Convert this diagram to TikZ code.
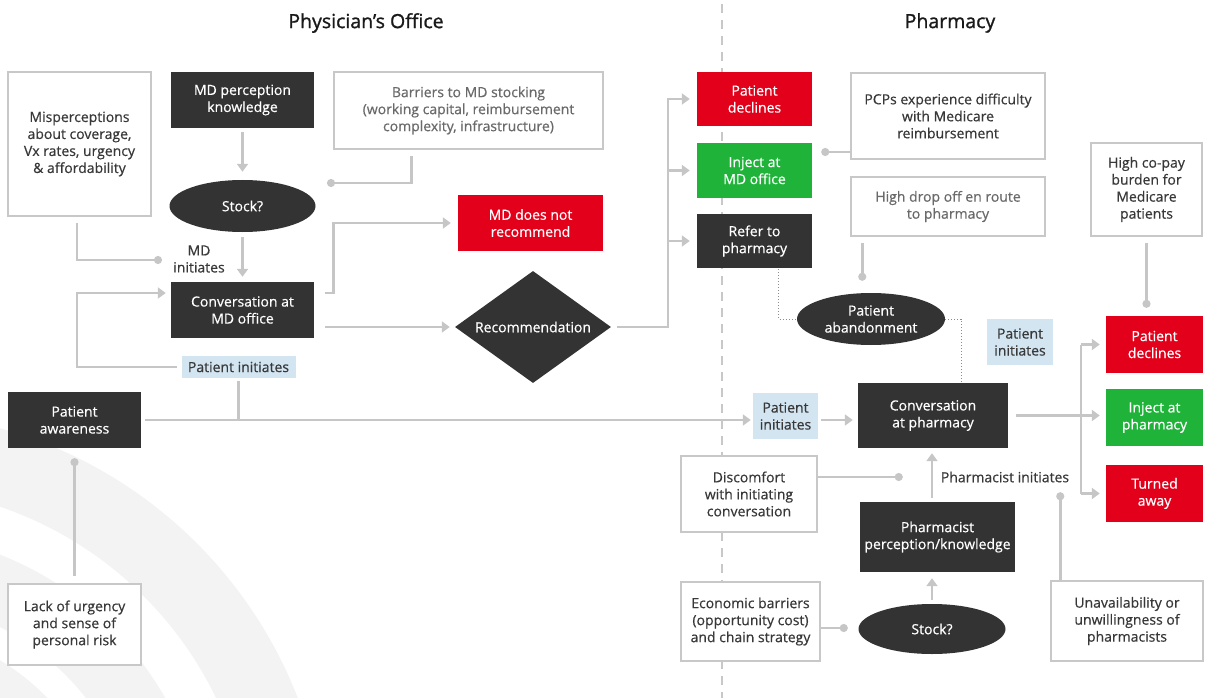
\documentclass[tikz,border=0pt]{standalone}
\usepackage{fontspec}
\setmainfont{Open Sans}[FakeBold=0.5]
\usetikzlibrary{shapes.geometric,arrows.meta,calc}
\definecolor{dkc}{HTML}{333333}
\definecolor{redc}{HTML}{E2001A}
\definecolor{grnc}{HTML}{1FB33A}
\definecolor{lbc}{HTML}{D2E5F1}
\definecolor{linec}{HTML}{C6C6C6}
\definecolor{bordc}{HTML}{C8C8C8}
\definecolor{arcc}{HTML}{F3F3F3}
\definecolor{txtc}{HTML}{383838}
\definecolor{ltxtc}{HTML}{6A6A6A}
\definecolor{divc}{HTML}{C8C8C8}
\begin{document}
\begin{tikzpicture}[x=1pt,y=-1pt,
  every node/.style={inner sep=0pt, align=center, font=\fontsize{14}{17}\selectfont},
  dk/.style={fill=dkc, text=white},
  wb/.style={draw=bordc, line width=1.5pt, fill=white, text=txtc},
  lwb/.style={wb, text=ltxtc},
  rd/.style={fill=redc, text=white},
  gr/.style={fill=grnc, text=white},
  lb/.style={fill=lbc, text=txtc},
  ell/.style={ellipse, fill=dkc, text=white},
  lbl/.style={text=txtc},
  conn/.style={draw=linec, line width=2.6pt},
  arr/.style={conn, -{Triangle[length=8pt,width=11pt]}},
  dotend/.style={conn, -{Circle[length=8pt]}},
  dotline/.style={draw=black!45, line width=1pt, dotted},
  title/.style={text=black!90, font=\fontsize{19.5}{22}\selectfont\addfontfeature{FakeBold=1.2}}
]
\useasboundingbox (0,0) rectangle (1208,698);
% background arcs
\begin{scope}
\clip (0,0) rectangle (1208,698);
\fill[arcc, even odd rule] (-120,860) circle[radius=448pt] (-120,860) circle[radius=373pt];
\fill[arcc, even odd rule] (-120,860) circle[radius=328pt] (-120,860) circle[radius=262pt];
\fill[arcc, even odd rule] (-120,860) circle[radius=233pt] (-120,860) circle[radius=160pt];
\end{scope}
% divider
\draw[divc, line width=1.2pt, dash pattern=on 9pt off 7pt] (722,4) -- (722,698);
% titles
\node[title] (t1) at (366,23) {Physician’s Office};
\node[title] (t2) at (950,23) {Pharmacy};
% physician side
\node[wb, minimum width=143pt, minimum height=144pt] (mis) at (79.5,144) {Misperceptions\\about coverage,\\Vx rates, urgency\\\& affordability};
\node[dk, minimum width=143pt, minimum height=56pt] (mdp) at (242.5,100) {MD perception\\knowledge};
\node[lwb, minimum width=269pt, minimum height=77pt] (bar) at (468.5,110.5) {Barriers to MD stocking\\(working capital, reimbursement\\complexity, infrastructure)};
\node[ell, minimum width=146pt, minimum height=52pt] (stock1) at (242.5,206) {Stock?};
\node[lbl] (mdinit) at (199,259) {MD\\initiates};
\node[dk, minimum width=143pt, minimum height=56pt] (conv1) at (242.5,310) {Conversation at\\MD office};
\node[lb, minimum width=114pt, minimum height=22pt] (pi1) at (238.5,367) {Patient initiates};
\node[dk, minimum width=133pt, minimum height=56pt] (paw) at (74.5,420) {Patient\\awareness};
\node[wb, minimum width=133pt, minimum height=81pt] (lack) at (74.5,624.5) {Lack of urgency\\and sense of\\personal risk};
\node[rd, minimum width=145pt, minimum height=56pt] (nrec) at (530.5,223) {MD does not\\recommend};
\node[diamond, fill=dkc, text=white, aspect=1.39, minimum width=156pt, minimum height=112pt] (rec) at (533,327) {Recommendation};
\node[rd, minimum width=115pt, minimum height=54pt] (pd1) at (754.5,99) {Patient\\declines};
\node[gr, minimum width=115pt, minimum height=55pt] (inj1) at (754.5,170.5) {Inject at\\MD office};
\node[dk, minimum width=115pt, minimum height=54pt] (ref) at (754.5,241) {Refer to\\pharmacy};
% pharmacy side
\node[wb, minimum width=194pt, minimum height=86pt] (pcp) at (948,116) {PCPs experience difficulty\\with Medicare\\reimbursement};
\node[lwb, minimum width=194pt, minimum height=59pt] (hdo) at (948,206.5) {High drop off en route\\to pharmacy};
\node[wb, minimum width=111pt, minimum height=93pt] (copay) at (1146.5,189.5) {High co-pay\\burden for\\Medicare\\patients};
\node[ell, minimum width=148pt, minimum height=52pt] (abandon) at (871,319) {Patient\\abandonment};
\node[lb, minimum width=66pt, minimum height=46pt] (pi2) at (1020,342) {Patient\\initiates};
\node[lb, minimum width=65pt, minimum height=46pt] (pi3) at (785.5,416) {Patient\\initiates};
\node[dk, minimum width=150pt, minimum height=65pt] (conv2) at (933,415.5) {Conversation\\at pharmacy};
\node[rd, minimum width=97pt, minimum height=57pt] (pd2) at (1154.5,344.5) {Patient\\declines};
\node[gr, minimum width=97pt, minimum height=57pt] (inj2) at (1154.5,417.5) {Inject at\\pharmacy};
\node[rd, minimum width=97pt, minimum height=57pt] (tw) at (1154.5,493.5) {Turned\\away};
\node[wb, minimum width=136pt, minimum height=76pt] (disc) at (749,494) {Discomfort\\with initiating\\conversation};
\node[dk, minimum width=155pt, minimum height=70pt] (pharm) at (937.5,537) {Pharmacist\\perception/knowledge};
\node[lbl] (phinit) at (1005,477) {Pharmacist initiates};
\node[wb, minimum width=139pt, minimum height=79pt] (econ) at (750.5,621.5) {Economic barriers\\(opportunity cost)\\and chain strategy};
\node[ell, minimum width=147pt, minimum height=50pt] (stock2) at (932,629) {Stock?};
\node[wb, minimum width=152pt, minimum height=80pt] (unav) at (1127,621) {Unavailability or\\unwillingness of\\pharmacists};
% coordinates
\coordinate (misdot) at (162,260);
\coordinate (bardot) at (327,183);
\coordinate (loopc) at (77,293);
% connectors: physician side
\draw[arr, shorten <=4pt, shorten >=8pt] (mdp) -- (stock1);
\draw[arr, shorten <=5pt, shorten >=5pt] (stock1) -- (conv1);
\draw[dotend] ($(mis.south)+(-2.5,6)$) |- (misdot);
\draw[dotend] ($(bar.south west)+(78,6)$) |- (bardot);
\draw[arr] ([xshift=-4pt]pi1.west) -| (loopc) -- ($(conv1.west)+(-5,-17)$);
\draw[conn] ([yshift=-3pt]pi1.south) -- (pi1.south |- paw.east);
\draw[arr] ([xshift=4pt]paw.east) -- ($(paw.east -| pi3.west)+(-2,0)$);
\draw[dotend] ([yshift=7pt]lack.north) -- ([yshift=-10pt]paw.south);
\draw[arr] ($(conv1.east)+(11,-17)$) -- ++(8,0) |- ([xshift=-7pt]nrec.west);
\draw[arr] ($(conv1.east)+(11,17)$) -- ([xshift=-5pt]rec.west);
\draw[arr] ([xshift=6pt]rec.east) -| ($(pd1.west)+(-29,0)$) -- ([xshift=-7pt]pd1.west);
\draw[arr] ($(inj1.west)+(-29,0)$) -- ([xshift=-7pt]inj1.west);
\draw[arr] ($(ref.west)+(-29,0)$) -- ([xshift=-7pt]ref.west);
% connectors: pharmacy side
\draw[dotend] ($(pcp.west)+(0,36)$) -- ++(-29,0);
\draw[dotend] ($(hdo.south west)+(12,6)$) -- ++(0,38);
\draw[dotline] ($(ref.south)+(24,1)$) |- (abandon.west);
\draw[dotline] (abandon.east) -| ($(conv2.north)+(28,-1)$);
\draw[arr] ($(pi3.east |- paw.east)+(3,0)$) -- ($(conv2.west |- paw.east)+(-5,0)$);
\draw[arr] ([xshift=8pt]conv2.east) -- ($(conv2.east -| inj2.west)+(-6,0)$);
\draw[conn] ($(pd2.west)+(-25,0)$) -- ($(tw.west)+(-25,0)$);
\draw[arr] ($(pd2.west)+(-25,0)$) -- ([xshift=-6pt]pd2.west);
\draw[arr] ($(tw.west)+(-25,0)$) -- ([xshift=-6pt]tw.west);
\draw[dotend] ([yshift=-6pt]copay.south) -- ([yshift=8pt]copay.south |- pd2.north);
\draw[arr, shorten <=4pt, shorten >=5pt] (pharm.north -| stock2.north) -- (conv2.south -| stock2.north);
\draw[arr, shorten <=4pt, shorten >=6pt] (stock2.north) -- (stock2.north |- pharm.south);
\draw[dotend] ($(disc.east)+(0,-17)$) -- ++(85,0);
\draw[dotend] ($(econ.east)+(0,6.5)$) -- ++(27,0);
\draw[dotend] ($(unav.north west)+(10,0)$) -- ++(0,-88);
\end{tikzpicture}
\end{document}
